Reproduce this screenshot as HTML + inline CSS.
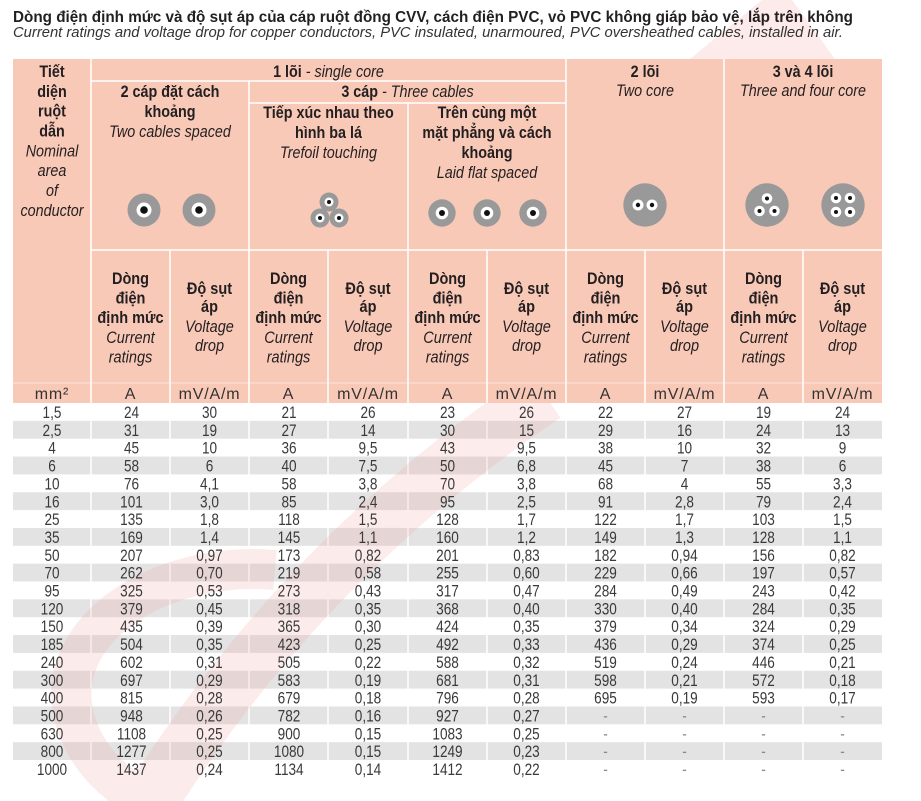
<!DOCTYPE html>
<html><head><meta charset="utf-8"><style>
html,body{margin:0;padding:0;background:#fff}
svg{display:block}
text{font-family:"Liberation Sans","DejaVu Sans",sans-serif}
.h{fill:#231f20;font-size:16.5px;text-anchor:middle}
.b{font-weight:bold}
.i{font-style:italic}
.d{fill:#3a3a3a;font-size:17px;text-anchor:middle}
.u{fill:#333;font-size:16px;text-anchor:middle;letter-spacing:0.8px}
.dash{fill:#888}
</style></head><body>
<svg width="921" height="801" viewBox="0 0 921 801" xmlns="http://www.w3.org/2000/svg">
<rect width="921" height="801" fill="#fff"/>
<polygon points="690,59 762,0 792,0 835,59" fill="#f4a0a0" opacity="0.22"/>
<text x="13" y="22" font-size="15.5" font-weight="bold" fill="#231f20" textLength="840" lengthAdjust="spacingAndGlyphs">Dòng điện định mức và độ sụt áp của cáp ruột đồng CVV, cách điện PVC, vỏ PVC không giáp bảo vệ, lắp trên không</text>
<text x="13" y="37" font-size="15" font-style="italic" fill="#333" textLength="830" lengthAdjust="spacingAndGlyphs">Current ratings and voltage drop for copper conductors, PVC insulated, unarmoured, PVC oversheathed cables, installed in air.</text>
<rect x="13" y="59" width="869" height="344" fill="#f9c9b8"/>
<g fill="#e3e3e3">
<rect x="13" y="420.85" width="869" height="17.85"/>
<rect x="13" y="456.55" width="869" height="17.85"/>
<rect x="13" y="492.25" width="869" height="17.85"/>
<rect x="13" y="527.95" width="869" height="17.85"/>
<rect x="13" y="563.65" width="869" height="17.85"/>
<rect x="13" y="599.35" width="869" height="17.85"/>
<rect x="13" y="635.05" width="869" height="17.85"/>
<rect x="13" y="670.75" width="869" height="17.85"/>
<rect x="13" y="706.45" width="869" height="17.85"/>
<rect x="13" y="742.15" width="869" height="17.85"/>
</g>
<g stroke="#fff" stroke-width="1.5" fill="none">
<line x1="91" y1="59" x2="91" y2="778"/>
<line x1="91" y1="81" x2="566" y2="81"/>
<line x1="249" y1="81" x2="249" y2="778"/>
<line x1="249" y1="103" x2="566" y2="103"/>
<line x1="408" y1="103" x2="408" y2="778"/>
<line x1="566" y1="59" x2="566" y2="778"/>
<line x1="724" y1="59" x2="724" y2="778"/>
<line x1="91" y1="250" x2="882" y2="250"/>
<line x1="170" y1="250" x2="170" y2="778"/>
<line x1="328" y1="250" x2="328" y2="778"/>
<line x1="487" y1="250" x2="487" y2="778"/>
<line x1="645" y1="250" x2="645" y2="778"/>
<line x1="803" y1="250" x2="803" y2="778"/>
</g>
<line x1="13" y1="383" x2="882" y2="383" stroke="#fff" stroke-width="1" opacity="0.5"/>
<defs><clipPath id="wc"><rect x="0" y="403" width="921" height="398"/></clipPath></defs>
<g clip-path="url(#wc)" opacity="0.2" fill="none" stroke="#f4a0a0">
<path d="M 545 395 Q 300 560 145 810" stroke-width="55"/>
<path d="M 275 570 C 160 560 50 630 75 720 C 90 770 130 795 165 810" stroke-width="40"/>
</g>

<g fill="#999">
<circle cx="144" cy="210" r="16.5"/><circle cx="199" cy="210" r="16.5"/>
<circle cx="329" cy="202" r="9.5"/><circle cx="320" cy="218" r="9.5"/><circle cx="339" cy="218" r="9.5"/>
<circle cx="442" cy="213" r="13.7"/><circle cx="487" cy="213" r="13.7"/><circle cx="533" cy="213" r="13.7"/>
<circle cx="645" cy="205" r="21.7"/><circle cx="767" cy="205" r="21.7"/><circle cx="843" cy="205" r="21.7"/>
</g>
<g fill="#fff">
<circle cx="144" cy="210" r="7.5"/><circle cx="199" cy="210" r="7.5"/>
<circle cx="329" cy="202" r="4.5"/><circle cx="320" cy="218" r="4.5"/><circle cx="339" cy="218" r="4.5"/>
<circle cx="442" cy="213" r="6.3"/><circle cx="487" cy="213" r="6.3"/><circle cx="533" cy="213" r="6.3"/>
<circle cx="638" cy="205" r="5.5"/><circle cx="652" cy="205" r="5.5"/>
<circle cx="767" cy="198.5" r="5.3"/><circle cx="759.5" cy="211" r="5.3"/><circle cx="774.5" cy="211" r="5.3"/>
<circle cx="836" cy="198" r="5.3"/><circle cx="850" cy="198" r="5.3"/><circle cx="836" cy="212" r="5.3"/><circle cx="850" cy="212" r="5.3"/>
</g>
<g fill="#111">
<circle cx="144" cy="210" r="3.8"/><circle cx="199" cy="210" r="3.8"/>
<circle cx="329" cy="202" r="2"/><circle cx="320" cy="218" r="2"/><circle cx="339" cy="218" r="2"/>
<circle cx="442" cy="213" r="3"/><circle cx="487" cy="213" r="3"/><circle cx="533" cy="213" r="3"/>
<circle cx="638" cy="205" r="2.2"/><circle cx="652" cy="205" r="2.2"/>
<circle cx="767" cy="198.5" r="2"/><circle cx="759.5" cy="211" r="2"/><circle cx="774.5" cy="211" r="2"/>
<circle cx="836" cy="198" r="2"/><circle cx="850" cy="198" r="2"/><circle cx="836" cy="212" r="2"/><circle cx="850" cy="212" r="2"/>
</g>

<g class="h" transform="translate(52 0) scale(.87 1)">
<text class="b" y="77">Tiết</text>
<text class="b" y="97">diện</text>
<text class="b" y="116.5">ruột</text>
<text class="b" y="136.5">dẫn</text>
<text class="i" y="156.5">Nominal</text>
<text class="i" y="176">area</text>
<text class="i" y="196">of</text>
<text class="i" y="216">conductor</text>
</g>
<g class="h" transform="translate(328.5 0) scale(.87 1)">
<text y="77"><tspan class="b">1 lõi</tspan><tspan class="i"> - single core</tspan></text>
<text class="b" y="118">Tiếp xúc nhau theo</text>
<text class="b" y="138">hình ba lá</text>
<text class="i" y="158">Trefoil touching</text>
</g>
<g class="h" transform="translate(170 0) scale(.87 1)">
<text class="b" y="97">2 cáp đặt cách</text>
<text class="b" y="117">khoảng</text>
<text class="i" y="137">Two cables spaced</text>
</g>
<g class="h" transform="translate(407.5 0) scale(.87 1)">
<text y="97"><tspan class="b">3 cáp</tspan><tspan class="i"> - Three cables</tspan></text>
</g>
<g class="h" transform="translate(487 0) scale(.87 1)">
<text class="b" y="118">Trên cùng một</text>
<text class="b" y="138">mặt phẳng và cách</text>
<text class="b" y="158">khoảng</text>
<text class="i" y="178">Laid flat spaced</text>
</g>
<g class="h" transform="translate(645 0) scale(.87 1)">
<text class="b" y="77">2 lõi</text>
<text class="i" y="96">Two core</text>
</g>
<g class="h" transform="translate(803 0) scale(.87 1)">
<text class="b" y="77">3 và 4 lõi</text>
<text class="i" y="96">Three and four core</text>
</g>

<g class="h" transform="translate(130.5 0) scale(.88 1)"><text class="b" y="284">Dòng</text><text class="b" y="303.5">điện</text><text class="b" y="323">định mức</text><text class="i" y="343">Current</text><text class="i" y="362.5">ratings</text></g>
<g class="h" transform="translate(288.5 0) scale(.88 1)"><text class="b" y="284">Dòng</text><text class="b" y="303.5">điện</text><text class="b" y="323">định mức</text><text class="i" y="343">Current</text><text class="i" y="362.5">ratings</text></g>
<g class="h" transform="translate(447.5 0) scale(.88 1)"><text class="b" y="284">Dòng</text><text class="b" y="303.5">điện</text><text class="b" y="323">định mức</text><text class="i" y="343">Current</text><text class="i" y="362.5">ratings</text></g>
<g class="h" transform="translate(605.5 0) scale(.88 1)"><text class="b" y="284">Dòng</text><text class="b" y="303.5">điện</text><text class="b" y="323">định mức</text><text class="i" y="343">Current</text><text class="i" y="362.5">ratings</text></g>
<g class="h" transform="translate(763.5 0) scale(.88 1)"><text class="b" y="284">Dòng</text><text class="b" y="303.5">điện</text><text class="b" y="323">định mức</text><text class="i" y="343">Current</text><text class="i" y="362.5">ratings</text></g>
<g class="h" transform="translate(209.5 0) scale(.88 1)"><text class="b" y="294">Độ sụt</text><text class="b" y="312">áp</text><text class="i" y="332">Voltage</text><text class="i" y="351">drop</text></g>
<g class="h" transform="translate(368 0) scale(.88 1)"><text class="b" y="294">Độ sụt</text><text class="b" y="312">áp</text><text class="i" y="332">Voltage</text><text class="i" y="351">drop</text></g>
<g class="h" transform="translate(526.5 0) scale(.88 1)"><text class="b" y="294">Độ sụt</text><text class="b" y="312">áp</text><text class="i" y="332">Voltage</text><text class="i" y="351">drop</text></g>
<g class="h" transform="translate(684.5 0) scale(.88 1)"><text class="b" y="294">Độ sụt</text><text class="b" y="312">áp</text><text class="i" y="332">Voltage</text><text class="i" y="351">drop</text></g>
<g class="h" transform="translate(842.5 0) scale(.88 1)"><text class="b" y="294">Độ sụt</text><text class="b" y="312">áp</text><text class="i" y="332">Voltage</text><text class="i" y="351">drop</text></g>

<g class="u">
<text x="52" y="399">mm²</text>
<text x="130.5" y="399">A</text><text x="209.5" y="399">mV/A/m</text>
<text x="288.5" y="399">A</text><text x="368" y="399">mV/A/m</text>
<text x="447.5" y="399">A</text><text x="526.5" y="399">mV/A/m</text>
<text x="605.5" y="399">A</text><text x="684.5" y="399">mV/A/m</text>
<text x="763.5" y="399">A</text><text x="842.5" y="399">mV/A/m</text>
</g>

<g class="d" transform="translate(52 0) scale(.8 1)">
<text y="418">1,5</text><text y="435.9">2,5</text><text y="453.7">4</text><text y="471.6">6</text><text y="489.4">10</text><text y="507.3">16</text><text y="525.1">25</text><text y="543">35</text><text y="560.8">50</text><text y="578.7">70</text><text y="596.5">95</text><text y="614.4">120</text><text y="632.2">150</text><text y="650.1">185</text><text y="667.9">240</text><text y="685.8">300</text><text y="703.6">400</text><text y="721.5">500</text><text y="739.3">630</text><text y="757.2">800</text><text y="775">1000</text>
</g>
<g class="d" transform="translate(131.5 0) scale(.8 1)">
<text y="418">24</text><text y="435.9">31</text><text y="453.7">45</text><text y="471.6">58</text><text y="489.4">76</text><text y="507.3">101</text><text y="525.1">135</text><text y="543">169</text><text y="560.8">207</text><text y="578.7">262</text><text y="596.5">325</text><text y="614.4">379</text><text y="632.2">435</text><text y="650.1">504</text><text y="667.9">602</text><text y="685.8">697</text><text y="703.6">815</text><text y="721.5">948</text><text y="739.3">1108</text><text y="757.2">1277</text><text y="775">1437</text>
</g>
<g class="d" transform="translate(209.5 0) scale(.8 1)">
<text y="418">30</text><text y="435.9">19</text><text y="453.7">10</text><text y="471.6">6</text><text y="489.4">4,1</text><text y="507.3">3,0</text><text y="525.1">1,8</text><text y="543">1,4</text><text y="560.8">0,97</text><text y="578.7">0,70</text><text y="596.5">0,53</text><text y="614.4">0,45</text><text y="632.2">0,39</text><text y="650.1">0,35</text><text y="667.9">0,31</text><text y="685.8">0,29</text><text y="703.6">0,28</text><text y="721.5">0,26</text><text y="739.3">0,25</text><text y="757.2">0,25</text><text y="775">0,24</text>
</g>
<g class="d" transform="translate(289 0) scale(.8 1)">
<text y="418">21</text><text y="435.9">27</text><text y="453.7">36</text><text y="471.6">40</text><text y="489.4">58</text><text y="507.3">85</text><text y="525.1">118</text><text y="543">145</text><text y="560.8">173</text><text y="578.7">219</text><text y="596.5">273</text><text y="614.4">318</text><text y="632.2">365</text><text y="650.1">423</text><text y="667.9">505</text><text y="685.8">583</text><text y="703.6">679</text><text y="721.5">782</text><text y="739.3">900</text><text y="757.2">1080</text><text y="775">1134</text>
</g>
<g class="d" transform="translate(368 0) scale(.8 1)">
<text y="418">26</text><text y="435.9">14</text><text y="453.7">9,5</text><text y="471.6">7,5</text><text y="489.4">3,8</text><text y="507.3">2,4</text><text y="525.1">1,5</text><text y="543">1,1</text><text y="560.8">0,82</text><text y="578.7">0,58</text><text y="596.5">0,43</text><text y="614.4">0,35</text><text y="632.2">0,30</text><text y="650.1">0,25</text><text y="667.9">0,22</text><text y="685.8">0,19</text><text y="703.6">0,18</text><text y="721.5">0,16</text><text y="739.3">0,15</text><text y="757.2">0,15</text><text y="775">0,14</text>
</g>
<g class="d" transform="translate(447.5 0) scale(.8 1)">
<text y="418">23</text><text y="435.9">30</text><text y="453.7">43</text><text y="471.6">50</text><text y="489.4">70</text><text y="507.3">95</text><text y="525.1">128</text><text y="543">160</text><text y="560.8">201</text><text y="578.7">255</text><text y="596.5">317</text><text y="614.4">368</text><text y="632.2">424</text><text y="650.1">492</text><text y="667.9">588</text><text y="685.8">681</text><text y="703.6">796</text><text y="721.5">927</text><text y="739.3">1083</text><text y="757.2">1249</text><text y="775">1412</text>
</g>
<g class="d" transform="translate(526.5 0) scale(.8 1)">
<text y="418">26</text><text y="435.9">15</text><text y="453.7">9,5</text><text y="471.6">6,8</text><text y="489.4">3,8</text><text y="507.3">2,5</text><text y="525.1">1,7</text><text y="543">1,2</text><text y="560.8">0,83</text><text y="578.7">0,60</text><text y="596.5">0,47</text><text y="614.4">0,40</text><text y="632.2">0,35</text><text y="650.1">0,33</text><text y="667.9">0,32</text><text y="685.8">0,31</text><text y="703.6">0,28</text><text y="721.5">0,27</text><text y="739.3">0,25</text><text y="757.2">0,23</text><text y="775">0,22</text>
</g>
<g class="d" transform="translate(605.5 0) scale(.8 1)">
<text y="418">22</text><text y="435.9">29</text><text y="453.7">38</text><text y="471.6">45</text><text y="489.4">68</text><text y="507.3">91</text><text y="525.1">122</text><text y="543">149</text><text y="560.8">182</text><text y="578.7">229</text><text y="596.5">284</text><text y="614.4">330</text><text y="632.2">379</text><text y="650.1">436</text><text y="667.9">519</text><text y="685.8">598</text><text y="703.6">695</text><text class="dash" y="721.5">-</text><text class="dash" y="739.3">-</text><text class="dash" y="757.2">-</text><text class="dash" y="775">-</text>
</g>
<g class="d" transform="translate(684.5 0) scale(.8 1)">
<text y="418">27</text><text y="435.9">16</text><text y="453.7">10</text><text y="471.6">7</text><text y="489.4">4</text><text y="507.3">2,8</text><text y="525.1">1,7</text><text y="543">1,3</text><text y="560.8">0,94</text><text y="578.7">0,66</text><text y="596.5">0,49</text><text y="614.4">0,40</text><text y="632.2">0,34</text><text y="650.1">0,29</text><text y="667.9">0,24</text><text y="685.8">0,21</text><text y="703.6">0,19</text><text class="dash" y="721.5">-</text><text class="dash" y="739.3">-</text><text class="dash" y="757.2">-</text><text class="dash" y="775">-</text>
</g>
<g class="d" transform="translate(763.5 0) scale(.8 1)">
<text y="418">19</text><text y="435.9">24</text><text y="453.7">32</text><text y="471.6">38</text><text y="489.4">55</text><text y="507.3">79</text><text y="525.1">103</text><text y="543">128</text><text y="560.8">156</text><text y="578.7">197</text><text y="596.5">243</text><text y="614.4">284</text><text y="632.2">324</text><text y="650.1">374</text><text y="667.9">446</text><text y="685.8">572</text><text y="703.6">593</text><text class="dash" y="721.5">-</text><text class="dash" y="739.3">-</text><text class="dash" y="757.2">-</text><text class="dash" y="775">-</text>
</g>
<g class="d" transform="translate(842.5 0) scale(.8 1)">
<text y="418">24</text><text y="435.9">13</text><text y="453.7">9</text><text y="471.6">6</text><text y="489.4">3,3</text><text y="507.3">2,4</text><text y="525.1">1,5</text><text y="543">1,1</text><text y="560.8">0,82</text><text y="578.7">0,57</text><text y="596.5">0,42</text><text y="614.4">0,35</text><text y="632.2">0,29</text><text y="650.1">0,25</text><text y="667.9">0,21</text><text y="685.8">0,18</text><text y="703.6">0,17</text><text class="dash" y="721.5">-</text><text class="dash" y="739.3">-</text><text class="dash" y="757.2">-</text><text class="dash" y="775">-</text>
</g>
</svg>
</body></html>
